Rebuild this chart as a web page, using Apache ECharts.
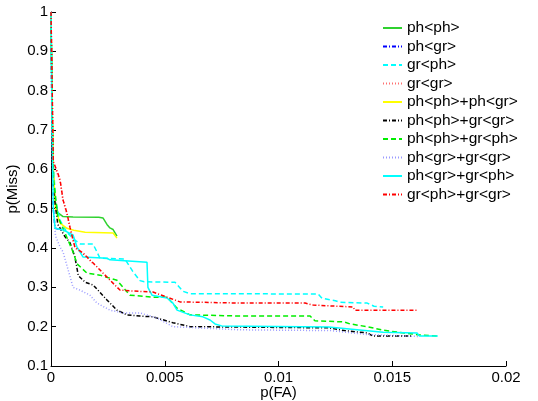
<!DOCTYPE html>
<html>
<head>
<meta charset="utf-8">
<script src="https://cdn.jsdelivr.net/npm/echarts@6/dist/echarts.min.js"></script>
<style>html,body{margin:0;padding:0;background:#fff;}#c{width:538px;height:401px;}</style>
</head>
<body>
<div id="c"></div>
<script>
// Series names (legend order)
const seriesNames = ['ph<ph>', 'ph<gr>', 'gr<ph>', 'gr<gr>', 'ph<ph>+ph<gr>', 'ph<ph>+gr<gr>', 'ph<ph>+gr<ph>', 'ph<gr>+gr<gr>', 'ph<gr>+gr<ph>', 'gr<ph>+gr<gr>'];

// Tick values
const xTicks = [0, 0.005, 0.01, 0.015, 0.02];
const yTicks = [0.1, 0.2, 0.3, 0.4, 0.5, 0.6, 0.7, 0.8, 0.9, 1];

// [p(FA), p(Miss)] points
const phph = [[0,1],[0.00003,0.85],[0.00008,0.62],[0.00018,0.52],[0.0003,0.49],[0.00053,0.48],[0.00097,0.479],[0.0021,0.478],[0.00229,0.476],[0.00246,0.46],[0.00259,0.451],[0.00273,0.447],[0.0029,0.43]];
const phgr = [[0,1],[0.00004,0.75],[0.0001,0.5],[0.00018,0.45],[0.00053,0.446]];
const grph = [[0,1],[0.00004,0.8],[0.0001,0.62],[0.0002,0.52],[0.0004,0.47],[0.0007,0.44],[0.00105,0.42],[0.0013,0.41],[0.00185,0.41],[0.00202,0.39],[0.00215,0.374],[0.00325,0.372],[0.0036,0.34],[0.00391,0.317],[0.0041,0.314],[0.00545,0.313],[0.0058,0.29],[0.0061,0.284],[0.01174,0.283],[0.01191,0.272],[0.0125,0.266],[0.0127,0.262],[0.0139,0.26],[0.0142,0.252],[0.0146,0.25]];
const grgr = [[0,1],[0.00004,0.84],[0.0001,0.62],[0.0003,0.585],[0.0004,0.57],[0.00053,0.52],[0.0007,0.487],[0.00084,0.45],[0.00105,0.4],[0.00141,0.385],[0.00185,0.36]];
const phphPhgr = [[0,1],[0.00004,0.8],[0.0001,0.6],[0.0002,0.5],[0.0004,0.463],[0.0007,0.45],[0.001,0.445],[0.0015,0.44],[0.00273,0.438],[0.0029,0.425]];
const phphGrgr = [[0,1],[0.00004,0.75],[0.0001,0.55],[0.0003,0.46],[0.0006,0.43],[0.00084,0.413],[0.00105,0.377],[0.0012,0.33],[0.0015,0.313],[0.00185,0.306],[0.00246,0.268],[0.0029,0.242],[0.00334,0.23],[0.00391,0.227],[0.00448,0.225],[0.00536,0.21],[0.00611,0.2],[0.0122,0.197],[0.0129,0.19],[0.0139,0.184],[0.01415,0.176],[0.0159,0.176]];
const phphGrph = [[0,1],[0.00004,0.78],[0.0001,0.58],[0.0003,0.48],[0.0006,0.44],[0.00097,0.39],[0.00114,0.36],[0.00158,0.336],[0.00215,0.331],[0.0029,0.318],[0.00347,0.28],[0.00448,0.275],[0.0051,0.275],[0.00554,0.247],[0.00611,0.23],[0.00831,0.227],[0.01139,0.227],[0.0116,0.215],[0.0129,0.212],[0.01314,0.207],[0.0139,0.2],[0.0146,0.191],[0.0162,0.179],[0.0170,0.176]];
const phgrGrgr = [[0,1],[0.00004,0.7],[0.0001,0.5],[0.0002,0.43],[0.0004,0.402],[0.00053,0.39],[0.00097,0.3],[0.00127,0.293],[0.00171,0.28],[0.00202,0.26],[0.00259,0.242],[0.00317,0.235],[0.00391,0.235],[0.00466,0.222],[0.00536,0.2],[0.00831,0.192],[0.0123,0.19],[0.0139,0.18],[0.0162,0.175]];
const phgrGrph = [[0,1],[0.00004,0.75],[0.0001,0.5],[0.00018,0.45],[0.00053,0.446],[0.00097,0.433],[0.00114,0.403],[0.00141,0.377],[0.00246,0.374],[0.00259,0.37],[0.00422,0.364],[0.00426,0.3],[0.00444,0.28],[0.0051,0.273],[0.00536,0.26],[0.00554,0.242],[0.00611,0.23],[0.00668,0.225],[0.00699,0.217],[0.00721,0.207],[0.0075,0.202],[0.0122,0.199],[0.0146,0.186],[0.01609,0.184],[0.0162,0.176],[0.0170,0.176]];
const grphGrgr = [[0,1],[0.00004,0.85],[0.0001,0.62],[0.0003,0.59],[0.0004,0.573],[0.00053,0.522],[0.0007,0.489],[0.00084,0.451],[0.00105,0.402],[0.00141,0.387],[0.00185,0.362],[0.00246,0.326],[0.00303,0.293],[0.00347,0.291],[0.00448,0.288],[0.0051,0.275],[0.00567,0.263],[0.00831,0.26],[0.01117,0.26],[0.01152,0.255],[0.01328,0.25],[0.01335,0.242],[0.01609,0.242]];

const seriesData = [phph, phgr, grph, grgr, phphPhgr, phphGrgr, phphGrph, phgrGrgr, phgrGrph, grphGrgr];

const DASH = [5, 3];
const DASHDOT = [4, 2, 1, 2];
const DOT = [1, 2];
const styles = [
  {color: '#2fd12f', type: 'solid'},
  {color: '#0000ff', type: DASHDOT},
  {color: '#00ffff', type: DASH},
  {color: '#ff7070', type: DOT},
  {color: '#ffff00', type: 'solid'},
  {color: '#000000', type: DASHDOT},
  {color: '#00ee00', type: DASH},
  {color: '#9a9aff', type: DOT},
  {color: '#00ffff', type: 'solid'},
  {color: '#ff0000', type: DASHDOT}
];

const FONT = 'Liberation Sans, Arial, sans-serif';
const chart = echarts.init(document.getElementById('c'), null, {renderer: 'canvas'});
chart.setOption({
  animation: false,
  backgroundColor: '#ffffff',
  grid: {left: 51, right: 32, top: 12, bottom: 35, containLabel: false, outerBoundsMode: 'none'},
  legend: {
    orient: 'vertical', left: 382, top: 20, padding: 0,
    itemWidth: 19, itemHeight: 14, itemGap: 2.5,
    data: seriesNames,
    itemStyle: {opacity: 0},
    textStyle: {fontFamily: FONT, fontSize: 15.5, color: '#000', lineHeight: 14}
  },
  xAxis: {
    type: 'value', min: xTicks[0], max: xTicks[xTicks.length - 1], interval: 0.005,
    name: 'p(FA)', nameLocation: 'middle', nameGap: 19, nameMoveOverlap: false,
    nameTextStyle: {fontFamily: FONT, fontSize: 15, color: '#000'},
    axisLine: {show: true, onZero: false, lineStyle: {color: '#000', width: 1}},
    axisTick: {show: true, inside: true, length: 5, lineStyle: {color: '#000'}},
    axisLabel: {fontFamily: FONT, fontSize: 15, color: '#000', margin: 4,
      formatter: v => String(+v.toFixed(4))},
    splitLine: {show: false}
  },
  yAxis: {
    type: 'value', min: yTicks[0], max: yTicks[yTicks.length - 1], interval: 0.1,
    name: 'p(Miss)', nameLocation: 'middle', nameGap: 31, nameMoveOverlap: false,
    nameTextStyle: {fontFamily: FONT, fontSize: 15, color: '#000'},
    axisLine: {show: true, onZero: false, lineStyle: {color: '#000', width: 1}},
    axisTick: {show: true, inside: true, length: 5, lineStyle: {color: '#000'}},
    axisLabel: {fontFamily: FONT, fontSize: 15, color: '#000', margin: 3,
      formatter: v => String(+v.toFixed(2))},
    splitLine: {show: false}
  },
  series: seriesNames.map((n, i) => ({
    name: n, type: 'line', data: seriesData[i],
    symbol: 'none', showSymbol: false, clip: true,
    color: styles[i].color,
    lineStyle: {color: styles[i].color, type: styles[i].type, width: 1.5}
  }))
});
</script>
</body>
</html>
